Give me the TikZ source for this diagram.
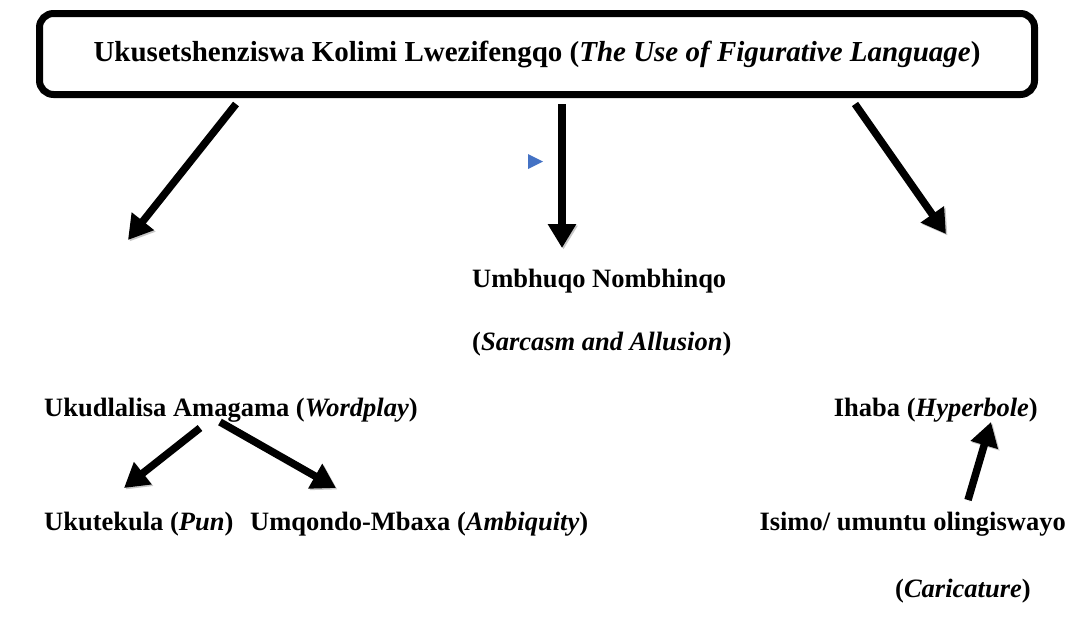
\documentclass[tikz,border=0pt]{standalone}
\usepackage{fontspec}
\setmainfont{Liberation Serif}
\usetikzlibrary{arrows.meta}
\tikzset{
  lbl/.style={inner sep=0pt, font=\bfseries\fontsize{26.5}{30}\selectfont},
  ttl/.style={draw, line width=7pt, rounded corners=14pt, inner sep=0pt,
               font=\bfseries\fontsize{29}{33}\selectfont},
  bigarrow/.style={line width=7.5pt,
    -{Triangle[width=27pt,length=24pt]},
    preaction={draw=black!22, transform canvas={shift={(1.5pt,-1.5pt)}}}},
}
\begin{document}
\begin{tikzpicture}[x=1pt,y=-1pt]
  \useasboundingbox (0,0) rectangle (1078,627);

  % title frame
  \node[ttl, minimum width=995pt, minimum height=81pt] (title) at (537,54)
    {Ukusetshenziswa Kolimi Lwezifengqo (\textit{The Use of Figurative Language})};

  % labels
  \node[lbl, anchor=base west] (sar1) at (472,287) {Umbhuqo Nombhinqo};
  \node[lbl, anchor=base west] (sar2) at (472,350) {(\textit{Sarcasm and Allusion})};
  \node[lbl, anchor=base west] (word) at (44,416) {Ukudlalisa Amagama (\textit{Wordplay})};
  \node[lbl, anchor=base east] (hyp)  at (1038,416) {Ihaba (\textit{Hyperbole})};
  \node[lbl, anchor=base west] (pun)  at (44,530) {Ukutekula (\textit{Pun})};
  \node[lbl, anchor=base west] (amb)  at (250,530) {Umqondo-Mbaxa (\textit{Ambiquity})};
  \node[lbl, anchor=base east] (car1) at (1066,530) {Isimo/ umuntu olingiswayo};
  \node[lbl, anchor=base west] (car2) at (895,597) {(\textit{Caricature})};

  % arrow end points
  \coordinate (t1) at (236,104);  \coordinate (h1) at (128,240);
  \coordinate (t2) at (562,104);  \coordinate (h2) at (562,248);
  \coordinate (t3) at (855,104);  \coordinate (h3) at (946,234);
  \coordinate (t4) at (200,428);  \coordinate (h4) at (124,488);
  \coordinate (t5) at (220,422);  \coordinate (h5) at (336,488);
  \coordinate (t6) at (968,500);  \coordinate (h6) at (991,422);

  \draw[bigarrow] (t1) -- (h1);
  \draw[bigarrow] (t2) -- (h2);
  \draw[bigarrow] (t3) -- (h3);
  \draw[bigarrow] (t4) -- (h4);
  \draw[bigarrow] (t5) -- (h5);
  \draw[bigarrow] (t6) -- (h6);

  % small blue marker
  \fill[fill={rgb,255:red,68;green,114;blue,196}] (528,154) -- (543,161.5) -- (528,169) -- cycle;
\end{tikzpicture}
\end{document}
